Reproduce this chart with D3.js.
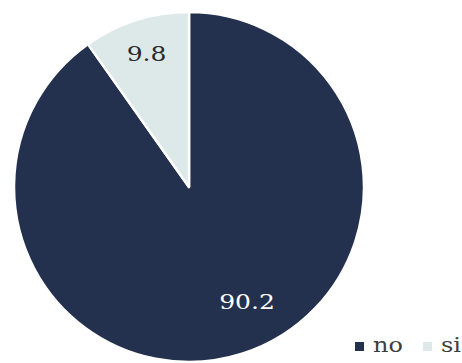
<!DOCTYPE html>
<html>
<head>
<meta charset="utf-8">
<script src="https://cdn.jsdelivr.net/npm/d3@7"></script>
<style>
  html, body { margin: 0; padding: 0; background: #fff; }
  svg { display: block; }
</style>
</head>
<body>
<script>
// Share of answers, in percent
const categories = ["no", "si"];
const values = [90.2, 9.8];
const colors = ["#23314f", "#dde9e8"];
const labelColors = ["#ffffff", "#2b2b2b"];

const W = 462, H = 363;
const cx = 189, cy = 187, R = 175;
const FONT = "DejaVu Serif, serif";
const LABEL_SIZE = 20;

const svg = d3.select("body").append("svg")
  .attr("width", W).attr("height", H);

const pie = d3.pie().sort(null).value(d => d.value);
const data = categories.map((c, i) => ({ name: c, value: values[i], i }));
const arcs = pie(data);

const arc = d3.arc().innerRadius(0).outerRadius(R);

const g = svg.append("g").attr("transform", `translate(${cx},${cy})`);

g.selectAll("path.slice")
  .data(arcs)
  .join("path")
  .attr("class", "slice")
  .attr("d", arc)
  .attr("fill", d => colors[d.data.i])
  .attr("stroke", "#ffffff")
  .attr("stroke-width", 2.5)
  .attr("stroke-linejoin", "round");

// value labels: large slice label sits nearer the centre, small one near the rim
const isBig = d => d.endAngle - d.startAngle > Math.PI;
const labelPos = d => {
  const a = (d.startAngle + d.endAngle) / 2 + (isBig(d) ? -0.16 : 0);
  const r = (isBig(d) ? 0.735 : 0.8) * R;
  return [Math.sin(a) * r, -Math.cos(a) * r];
};

g.selectAll("text.val")
  .data(arcs)
  .join("text")
  .attr("class", "val")
  .attr("transform", d => {
    const [x, y] = labelPos(d);
    return `translate(${x},${y + 0.36 * LABEL_SIZE}) scale(1.25,1)`;
  })
  .attr("text-anchor", "middle")
  .attr("font-family", FONT)
  .attr("font-size", LABEL_SIZE)
  .attr("fill", d => labelColors[d.data.i])
  .text(d => d.data.value.toFixed(1));

// legend
const legend = svg.append("g").attr("transform", "translate(355,352)");
const items = legend.selectAll("g.item")
  .data(data)
  .join("g")
  .attr("class", "item")
  .attr("transform", (d, i) => `translate(${i * 68},0)`);

items.append("rect")
  .attr("x", 0).attr("y", -10)
  .attr("width", 9).attr("height", 9)
  .attr("fill", d => colors[d.i]);

items.append("text")
  .attr("transform", "translate(18,0) scale(1.2,1)")
  .attr("font-family", FONT)
  .attr("font-size", 20)
  .attr("fill", "#3d3d3d")
  .text(d => d.name);
</script>
</body>
</html>
